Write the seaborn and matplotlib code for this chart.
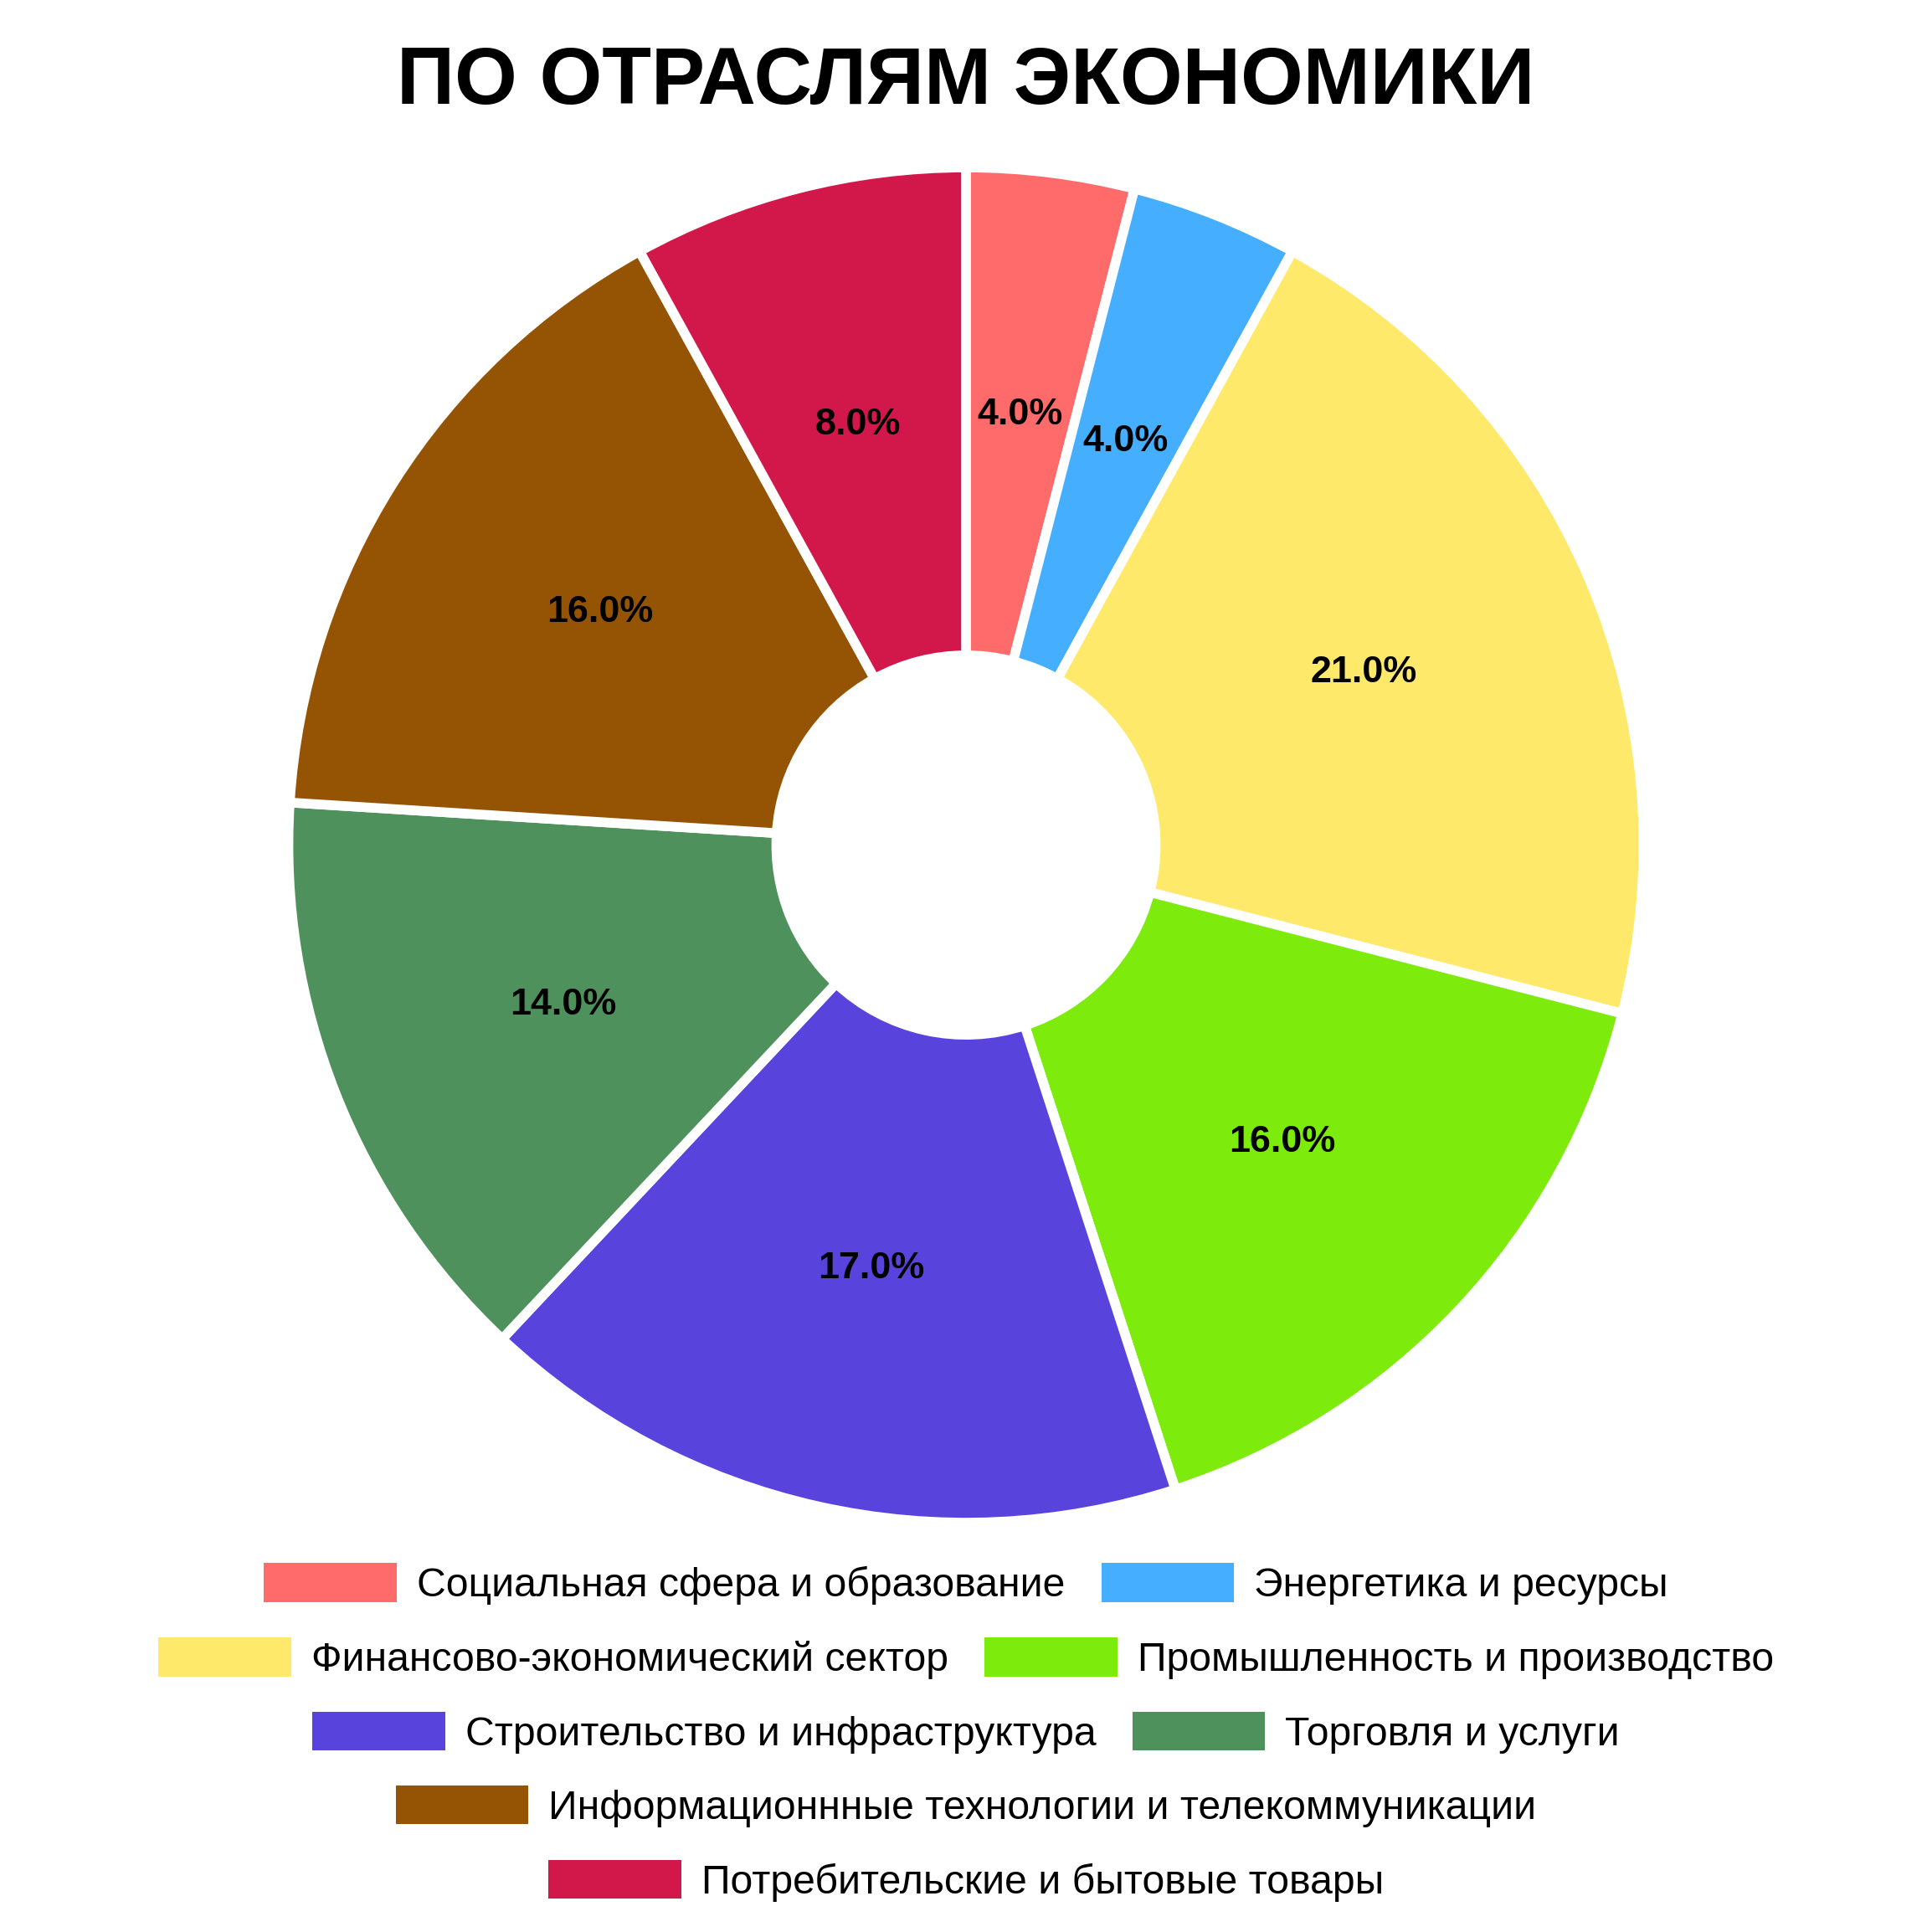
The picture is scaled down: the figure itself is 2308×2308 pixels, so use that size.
import matplotlib
matplotlib.use("Agg")
import matplotlib.pyplot as plt
import matplotlib.patches as mpatches
import seaborn as sns

# data
sectors = ["Социальная сфера и образование",
           "Энергетика и ресурсы",
           "Финансово-экономический сектор",
           "Промышленность и производство",
           "Строительство и инфраструктура",
           "Торговля и услуги",
           "Информационнные технологии и телекоммуникации",
           "Потребительские и бытовые товары"]
shares = [4, 4, 21, 16, 17, 14, 16, 8]
colors = ["#FF6B6B", "#45AEFF", "#FFE96A", "#7DEB0C",
          "#5844DD", "#4F915C", "#955404", "#D2184A"]
title = "ПО ОТРАСЛЯМ ЭКОНОМИКИ"

# legend rows (entries are centred row by row)
legend_rows = [[0, 1], [2, 3], [4, 5], [6], [7]]
legend_y = [0.1802, 0.1416, 0.1031, 0.0650, 0.0265]

sns.set_theme(style="white")
plt.rcParams["font.family"] = ["Liberation Sans", "DejaVu Sans"]
plt.rcParams["text.color"] = "black"

fig = plt.figure(figsize=(10, 10), dpi=230.8)
r = 0.3507
ax = fig.add_axes([0.5 - r, 0.5626 - r, 2 * r, 2 * r])

pal = sns.color_palette(colors)
wedges, texts, autotexts = ax.pie(
    shares, colors=pal, startangle=90, counterclock=False,
    autopct="%1.1f%%", pctdistance=0.64,
    wedgeprops=dict(width=0.72, edgecolor="white", linewidth=3.6),
    textprops=dict(fontsize=14, fontweight="bold", color="black"))
ax.set_xlim(-1, 1)
ax.set_ylim(-1, 1)
ax.set_aspect("equal")
ax.axis("off")

fig.text(0.5, 0.9463, title, ha="center", va="baseline",
         fontsize=30, fontweight="bold", color="black")

for row, y in zip(legend_rows, legend_y):
    handles = [mpatches.Patch(facecolor=pal[i], edgecolor="none") for i in row]
    labels = [sectors[i] for i in row]
    fig.legend(handles, labels, loc="center", bbox_to_anchor=(0.5, y),
               ncol=len(row), frameon=False, fontsize=15, labelcolor="black",
               handlelength=3.3, handleheight=1.1, handletextpad=0.5,
               columnspacing=0.9, borderpad=0, borderaxespad=0)

fig.savefig("out.png", dpi=230.8, facecolor="white")
